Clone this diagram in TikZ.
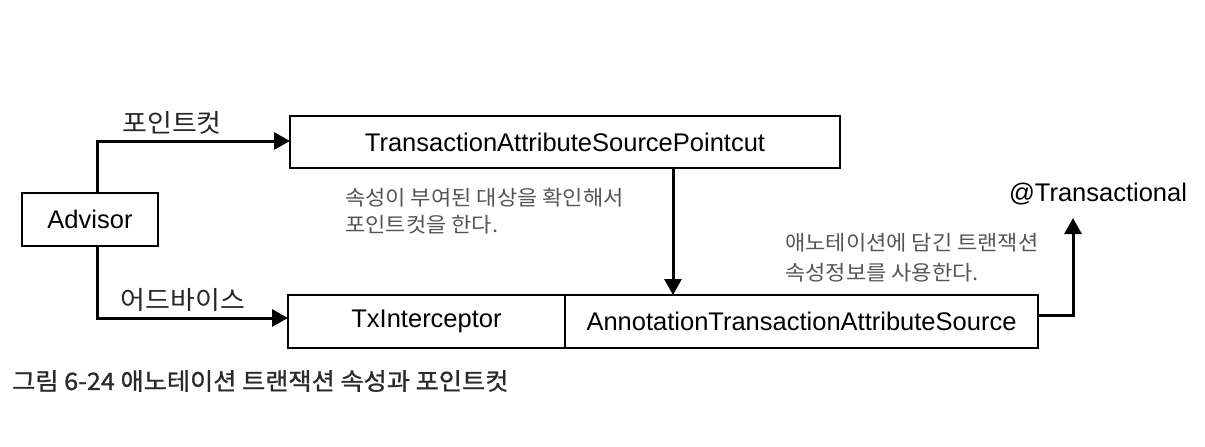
\documentclass[tikz,border=0pt]{standalone}
\usepackage{fontspec}
\setmainfont{Liberation Sans}
\newfontfamily\kr{Noto Sans CJK KR}[FakeStretch=1.06]
\newfontfamily\krb{Noto Sans CJK KR}[FakeBold=1,FakeStretch=1.05]
\usetikzlibrary{arrows.meta}
\definecolor{notegray}{HTML}{555555}
\definecolor{capgray}{HTML}{2A2A2A}
\tikzset{
  box/.style={draw=black, line width=2.4, inner sep=0, outer sep=0, font=\fontsize{25.5}{30}\selectfont},
  conn/.style={line width=3, -{Triangle[length=16,width=17]}},
  lab/.style={inner sep=0, text=black!85, font=\kr\fontsize{25.5}{28}\selectfont},
  note/.style={inner sep=0, align=left, text=notegray},
}
\begin{document}
\begin{tikzpicture}[x=1pt,y=-1pt]
\useasboundingbox (0,0) rectangle (1205,447);
\node[box, minimum width=136, minimum height=53] (adv) at (90,219.5) {Advisor};
\node[box, minimum width=550, minimum height=52] (pc) at (565,142) {TransactionAttributeSourcePointcut};
\node[box, minimum width=277, minimum height=53] (tx) at (426.5,321.5) {TxInterceptor};
\node[box, minimum width=473, minimum height=53] (ats) at (801.5,321.5) {AnnotationTransactionAttributeSource};
\node[inner sep=0, font=\fontsize{25.5}{30}\selectfont] (at) at (1098,194) {@Transactional};
\coordinate (tip) at (1073,218);

\draw[conn] ([xshift=7]adv.north) |- ([yshift=1]pc.west);
\draw[conn] ([xshift=7]adv.south) |- ([yshift=3.5]tx.west);
\draw[conn] ([xshift=108]pc.south) -- ([xshift=108]pc.south |- ats.north);
\draw[conn] ([yshift=6.5]ats.east) -| (tip);

\node[lab] (l1) at (172,123) {포인트컷};
\node[lab] (l2) at (183,300) {어드바이스};

\node[note, anchor=west, font=\kr\fontsize{20.8}{27}\selectfont] (n1) at (345,211) {속성이 부여된 대상을 확인해서\\포인트컷을 한다.};
\node[note, anchor=west, font=\kr\fontsize{20.8}{30}\selectfont] (n2) at (785,258) {애노테이션에 담긴 트랜잭션\\속성정보를 사용한다.};

\node[inner sep=0, anchor=west, text=capgray, font=\krb\fontsize{24}{26}\selectfont] (cap) at (12,381) {그림 6-24 애노테이션 트랜잭션 속성과 포인트컷};
\end{tikzpicture}
\end{document}
